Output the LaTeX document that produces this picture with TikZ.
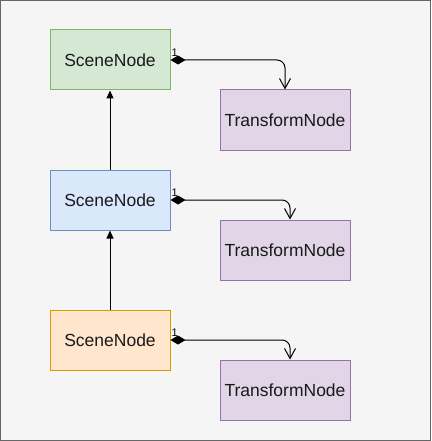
\documentclass[tikz,border=0pt]{standalone}
\usepackage{fontspec}
\setmainfont{Liberation Sans}
\usepackage{xcolor}
\usetikzlibrary{arrows.meta,positioning,calc}
\definecolor{bggray}{HTML}{F5F5F5}
\definecolor{framegray}{HTML}{666666}
\definecolor{greenfill}{HTML}{D5E8D4}
\definecolor{greenline}{HTML}{82B366}
\definecolor{bluefill}{HTML}{DAE8FC}
\definecolor{blueline}{HTML}{6C8EBF}
\definecolor{orangefill}{HTML}{FFE6CC}
\definecolor{orangeline}{HTML}{D79B00}
\definecolor{purplefill}{HTML}{E1D5E7}
\definecolor{purpleline}{HTML}{9673A6}
\definecolor{inkgray}{HTML}{1A1A1A}

\tikzset{
  box/.style={draw, line width=1pt, minimum width=120pt, minimum height=60pt,
    inner sep=0pt, font=\fontsize{17.5pt}{20pt}\selectfont, text=inkgray},
  scenebox/.style={box},
  transformbox/.style={box, minimum width=130pt, fill=purplefill, draw=purpleline},
  parentarrow/.style={line width=1pt, -{Triangle[length=8pt,width=7pt]}},
  ownsarrow/.style={line width=1pt, rounded corners=8pt,
    {Diamond[length=15pt,width=9pt]}-{Straight Barb[length=10pt,width=11pt]}},
  mult/.style={font=\fontsize{11pt}{12pt}\selectfont, inner sep=1pt, anchor=south west}
}

\begin{document}
\begin{tikzpicture}[x=1pt,y=-1pt]
  \draw[fill=bggray, draw=framegray, line width=1pt] (0.5,0.5) rectangle (430.5,440.5);
  \useasboundingbox (0,0) rectangle (431,441);

  % scene graph chain
  \node[scenebox, fill=greenfill, draw=greenline] (scene1) at (110,60) {SceneNode};
  \node[scenebox, fill=bluefill, draw=blueline] (scene2) at (110,200) {SceneNode};
  \node[scenebox, fill=orangefill, draw=orangeline] (scene3) at (110,340) {SceneNode};

  \node[transformbox] (trans1) at (285,120) {TransformNode};
  \node[transformbox] (trans2) at (285,250) {TransformNode};
  \node[transformbox] (trans3) at (285,390) {TransformNode};

  \draw[parentarrow] (scene3) -- (scene2);
  \draw[parentarrow] (scene2) -- (scene1);

  % composition links
  \draw[ownsarrow] (scene1.east) -| (trans1.north);
  \draw[ownsarrow] (scene2.east) -| ([xshift=5pt]trans2.north);
  \draw[ownsarrow] (scene3.east) -| ([xshift=5pt]trans3.north);
  \node[mult] (mult1) at ([yshift=2pt]scene1.east) {1};
  \node[mult] (mult2) at ([yshift=2pt]scene2.east) {1};
  \node[mult] (mult3) at ([yshift=2pt]scene3.east) {1};
\end{tikzpicture}
\end{document}
